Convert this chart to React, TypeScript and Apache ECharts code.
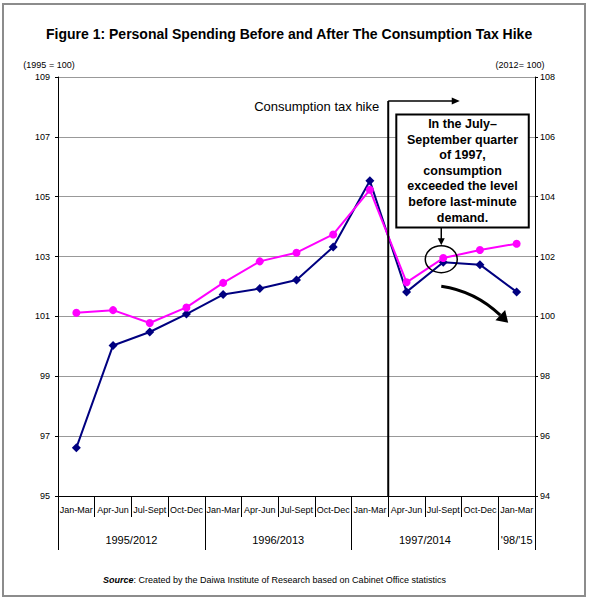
import React, { useEffect, useRef } from 'react';
import * as echarts from 'echarts';

const FONT = '"Liberation Sans", Arial, Helvetica, sans-serif';

const CATEGORIES = [
  'Jan-Mar', 'Apr-Jun', 'Jul-Sept', 'Oct-Dec',
  'Jan-Mar', 'Apr-Jun', 'Jul-Sept', 'Oct-Dec',
  'Jan-Mar', 'Apr-Jun', 'Jul-Sept', 'Oct-Dec',
  'Jan-Mar',
];
// 1995/1996/1997/'98 (1995 = 100), left axis
const SPENDING_1995 = [96.61, 100.03, 100.48, 101.08, 101.73, 101.93, 102.22, 103.32, 105.53, 101.82, 102.81, 102.73, 101.82];
// 2012/2013/2014/'15 (2012 = 100), right axis
const SPENDING_2012 = [100.12, 100.21, 99.78, 100.3, 101.12, 101.84, 102.13, 102.74, 104.23, 101.14, 101.95, 102.22, 102.43];

const YEAR_GROUPS = [
  { name: '1995/2012', start: 0, end: 4 },
  { name: '1996/2013', start: 4, end: 8 },
  { name: '1997/2014', start: 8, end: 12 },
  { name: "'98/'15", start: 12, end: 13 },
];

const LEFT_AXIS = { min: 95, max: 109, step: 2, name: '(1995 = 100)' };
const RIGHT_AXIS = { min: 94, max: 108, step: 2, name: '(2012= 100)' };

const TITLE = 'Figure 1: Personal Spending Before and After The Consumption Tax Hike';
const HIKE_LABEL = 'Consumption tax hike';
const HIKE_POSITION = 9; // boundary between Jan-Mar 1997 and Apr-Jun 1997 (category slots 0..13)
const NOTE_LINES = ['In the July\u2013', 'September quarter', 'of 1997,', 'consumption', 'exceeded the level', 'before last-minute', 'demand.'];
const NOTE_INDEX = 10; // Jul-Sept 1997
const SOURCE_TEXT = ': Created by the Daiwa Institute of Research based on Cabinet Office statistics';

export default function App() {
  const ref = useRef<HTMLDivElement>(null);

  useEffect(() => {
    document.body.style.margin = '0';
    const chart = echarts.init(ref.current as HTMLDivElement, null, { renderer: 'svg' });

    const groupTicks = [0, ...YEAR_GROUPS.map((g) => g.end)];
    const groupCenters = YEAR_GROUPS.map((g) => (g.start + g.end) / 2);

    chart.setOption({
      animation: false,
      backgroundColor: '#fff',
      title: {
        text: TITLE,
        left: 41,
        top: 22,
        textStyle: { fontFamily: FONT, fontSize: 14, fontWeight: 'bold', color: '#000' },
      },
      grid: { left: 58, right: 55, top: 77, bottom: 104, containLabel: false },
      xAxis: [
        {
          type: 'category',
          data: CATEGORIES,
          boundaryGap: true,
          axisLine: { show: true, lineStyle: { color: '#000', width: 1 } },
          axisTick: { show: true, interval: 0, length: 21, lineStyle: { color: '#000' } },
          axisLabel: {
            interval: 0,
            margin: 9,
            fontSize: 9,
            fontFamily: FONT,
            color: '#000',
            hideOverlap: false,
          },
          splitLine: { show: false },
        },
        {
          type: 'value',
          position: 'bottom',
          min: 0,
          max: CATEGORIES.length,
          axisLine: { show: false },
          axisTick: { show: true, length: 54, customValues: groupTicks, lineStyle: { color: '#000' } },
          axisLabel: {
            customValues: groupCenters,
            margin: 38,
            fontSize: 11,
            fontFamily: FONT,
            color: '#000',
            formatter: (v: number) => {
              const g = YEAR_GROUPS.find((gr) => Math.abs((gr.start + gr.end) / 2 - v) < 1e-6);
              return g ? g.name : '';
            },
          },
          splitLine: { show: false },
        },
      ],
      yAxis: [
        {
          type: 'value',
          position: 'left',
          min: LEFT_AXIS.min,
          max: LEFT_AXIS.max,
          interval: LEFT_AXIS.step,
          axisLine: { show: true, lineStyle: { color: '#000' } },
          axisTick: { show: true, length: 3, lineStyle: { color: '#000' } },
          axisLabel: { margin: 8, fontSize: 9, fontFamily: FONT, color: '#000' },
          splitLine: { show: true, lineStyle: { color: '#999', width: 1 } },
        },
        {
          type: 'value',
          position: 'right',
          min: RIGHT_AXIS.min,
          max: RIGHT_AXIS.max,
          interval: RIGHT_AXIS.step,
          axisLine: { show: true, lineStyle: { color: '#000' } },
          axisTick: { show: true, length: 3, lineStyle: { color: '#000' } },
          axisLabel: { margin: 5, fontSize: 9, fontFamily: FONT, color: '#000' },
          splitLine: { show: false },
        },
      ],
      series: [
        {
          name: '1995 = 100',
          type: 'line',
          xAxisIndex: 0,
          yAxisIndex: 0,
          data: SPENDING_1995,
          symbol: 'diamond',
          symbolSize: 9,
          lineStyle: { color: '#000080', width: 2 },
          itemStyle: { color: '#000080' },
          z: 3,
        },
        {
          name: '2012 = 100',
          type: 'line',
          xAxisIndex: 0,
          yAxisIndex: 1,
          data: SPENDING_2012,
          symbol: 'circle',
          symbolSize: 8,
          lineStyle: { color: '#FF00FF', width: 2 },
          itemStyle: { color: '#FF00FF' },
          z: 4,
        },
      ],
    });

    const px = (x: number) => chart.convertToPixel({ xAxisIndex: 1 }, x) as number;
    const pyL = (y: number) => chart.convertToPixel({ yAxisIndex: 0 }, y) as number;
    const pyR = (y: number) => chart.convertToPixel({ yAxisIndex: 1 }, y) as number;

    const hikeX = px(HIKE_POSITION);
    const hikeTop = pyL(108.2);
    const hikeBottom = pyL(LEFT_AXIS.min);
    const arrowEndX = px(10.95);

    const noteX = px(NOTE_INDEX + 0.5);
    const noteY = (pyL(SPENDING_1995[NOTE_INDEX]) + pyR(SPENDING_2012[NOTE_INDEX])) / 2 - 1;

    const boxLeft = px(9.22);
    const boxRight = px(12.83);
    const boxTop = pyL(107.75);
    const boxBottom = pyL(103.97);
    const boxCx = (boxLeft + boxRight) / 2;

    // curved arrow below Jul-Sept 1997 point
    const cStart = [noteX - 2, noteY + 27];
    const cCtrl = [noteX + 32, noteY + 32];
    const cEnd = [noteX + 57, noteY + 56];
    const dx = cEnd[0] - cCtrl[0];
    const dy = cEnd[1] - cCtrl[1];
    const len = Math.sqrt(dx * dx + dy * dy);
    const ux = dx / len;
    const uy = dy / len;
    const tip = [cEnd[0] + ux * 11, cEnd[1] + uy * 11];
    const h1 = [cEnd[0] - uy * 7, cEnd[1] + ux * 7];
    const h2 = [cEnd[0] + uy * 7, cEnd[1] - ux * 7];

    const lineStartY = boxTop + 10;
    const lineH = (boxBottom - boxTop - 20) / (NOTE_LINES.length - 1);

    chart.setOption({
      graphic: [
        // frame
        {
          type: 'rect',
          shape: { x: 3, y: 4, width: 582, height: 592 },
          style: { fill: null, stroke: '#8c8c8c', lineWidth: 2 },
          silent: true,
          z: 1,
        },
        // axis names
        {
          type: 'text',
          x: 49,
          y: 65,
          style: { text: LEFT_AXIS.name, fontSize: 9, fontFamily: FONT, fill: '#000', align: 'center', verticalAlign: 'middle' },
        },
        {
          type: 'text',
          x: 520,
          y: 65,
          style: { text: RIGHT_AXIS.name, fontSize: 9, fontFamily: FONT, fill: '#000', align: 'center', verticalAlign: 'middle' },
        },
        // tax hike line
        {
          type: 'line',
          shape: { x1: hikeX, y1: hikeTop, x2: hikeX, y2: hikeBottom + 1 },
          style: { stroke: '#000', lineWidth: 2 },
          z: 100,
        },
        {
          type: 'line',
          shape: { x1: hikeX, y1: hikeTop, x2: arrowEndX - 6, y2: hikeTop },
          style: { stroke: '#000', lineWidth: 1.5 },
          z: 100,
        },
        {
          type: 'polygon',
          shape: { points: [[arrowEndX, hikeTop], [arrowEndX - 8, hikeTop - 3.5], [arrowEndX - 8, hikeTop + 3.5]] },
          style: { fill: '#000' },
          z: 100,
        },
        {
          type: 'text',
          x: hikeX - 9,
          y: hikeTop + 6,
          style: { text: HIKE_LABEL, fontSize: 13, fontFamily: FONT, fill: '#000', align: 'right', verticalAlign: 'middle' },
          z: 100,
        },
        // note box
        {
          type: 'rect',
          shape: { x: boxLeft, y: boxTop, width: boxRight - boxLeft, height: boxBottom - boxTop },
          style: { fill: '#fff', stroke: '#000', lineWidth: 2 },
          z: 100,
        },
        ...NOTE_LINES.map((t, i) => ({
          type: 'text',
          x: boxCx,
          y: lineStartY + i * lineH,
          style: { text: t, fontSize: 12.5, fontWeight: 'bold', fontFamily: FONT, fill: '#000', align: 'center', verticalAlign: 'middle' },
          z: 101,
        })),
        // pointer from box to circle
        {
          type: 'line',
          shape: { x1: noteX - 2, y1: boxBottom, x2: noteX - 2, y2: noteY - 19 },
          style: { stroke: '#000', lineWidth: 1.5 },
          z: 100,
        },
        {
          type: 'polygon',
          shape: { points: [[noteX - 2, noteY - 14], [noteX - 5.5, noteY - 21], [noteX + 1.5, noteY - 21]] },
          style: { fill: '#000' },
          z: 100,
        },
        {
          type: 'ellipse',
          shape: { cx: noteX - 2, cy: noteY, rx: 16, ry: 13.5 },
          style: { fill: null, stroke: '#000', lineWidth: 1.5 },
          z: 100,
        },
        // curved arrow
        {
          type: 'bezierCurve',
          shape: { x1: cStart[0], y1: cStart[1], x2: cEnd[0], y2: cEnd[1], cpx1: cCtrl[0], cpy1: cCtrl[1] },
          style: { stroke: '#000', lineWidth: 3, fill: null },
          z: 100,
        },
        {
          type: 'polygon',
          shape: { points: [tip, h1, h2] },
          style: { fill: '#000' },
          z: 100,
        },
        // source
        {
          type: 'text',
          x: 103,
          y: 580,
          style: {
            text: '{b|Source}{n|' + SOURCE_TEXT + '}',
            verticalAlign: 'middle',
            rich: {
              b: { fontSize: 9, fontWeight: 'bold', fontStyle: 'italic', fontFamily: FONT, fill: '#000' },
              n: { fontSize: 9, fontFamily: FONT, fill: '#000' },
            },
          },
        },
      ],
    });

    return () => chart.dispose();
  }, []);

  return <div ref={ref} style={{ width: 590, height: 600 }} />;
}
